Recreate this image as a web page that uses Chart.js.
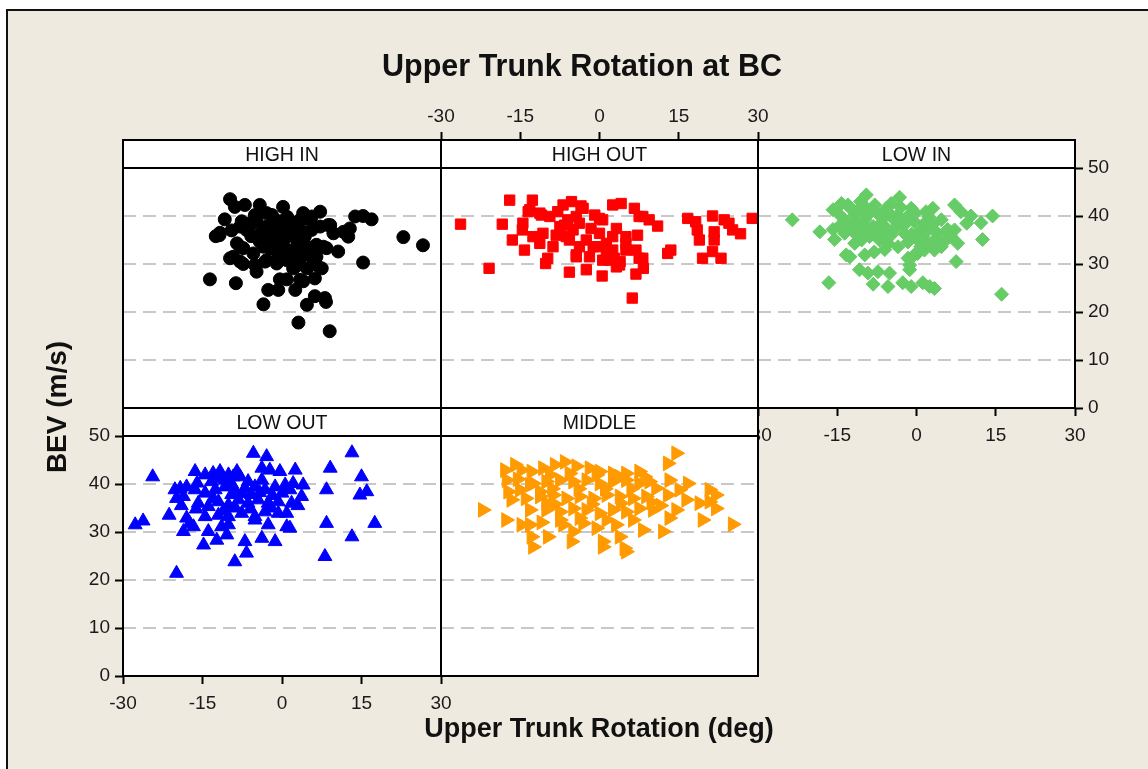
<!DOCTYPE html>
<html>
<head>
<meta charset="utf-8">
<title>Upper Trunk Rotation at BC</title>
<script src="https://cdn.jsdelivr.net/npm/chart.js@4.4.0/dist/chart.umd.min.js"></script>
<style>
  html, body { margin: 0; padding: 0; width: 1148px; height: 769px; overflow: hidden; background: #fff;
               font-family: "Liberation Sans", Arial, sans-serif; }
  #frame { position: absolute; left: 6px; top: 9px; width: 1142px; height: 760px; box-sizing: border-box;
           background: #EEEAE0; border-left: 2px solid #111; border-top: 2px solid #111; }
  canvas { position: absolute; }
  .strip { position: absolute; height: 28px; line-height: 28px; text-align: center; font-size: 19.5px; color: #111; }
  #title { position: absolute; left: 282px; top: 50px; width: 600px; text-align: center; font-weight: bold;
           font-size: 30.5px; line-height: 30px; color: #111; }
  #xlabel { position: absolute; left: 399px; top: 715px; width: 400px; text-align: center; font-weight: bold;
            font-size: 27px; line-height: 27px; color: #111; }
  #ylabel { position: absolute; left: -43px; top: 393px; width: 200px; text-align: center; font-weight: bold;
            font-size: 28px; line-height: 28px; color: #111; transform: rotate(-90deg); }
</style>
</head>
<body>
<div id="frame"></div>

<script>
// axis ticks
const xTicks = [-30, -15, 0, 15, 30];
const yTicks = [0, 10, 20, 30, 40, 50];

// [rotation (deg), BEV (m/s)]
const highIn = [
  [-9.8,43.5],[-8.9,41.9],[-7.0,42.3],[-4.2,42.3],[-2.9,40.6],[-1.9,40.2],[0.2,41.9],[4.0,40.6],[7.2,40.9],
  [13.8,39.9],[15.3,40.0],[16.9,39.3],[-10.8,39.3],[-11.7,36.5],[-7.9,37.8],[-6.0,38.5],[-7.6,38.9],[-5.1,40.2],
  [1.5,38.9],[3.4,38.9],[5.3,39.2],[8.7,38.1],[11.6,36.7],[12.8,37.4],[12.5,35.7],[-1.6,36.4],[0.0,37.1],
  [0.9,35.7],[-2.3,35.0],[-4.2,34.7],[-8.5,34.3],[-7.3,33.3],[-5.4,32.2],[-9.8,31.2],[-7.9,30.5],[-5.1,29.8],
  [-3.2,30.5],[-1.0,30.8],[0.2,32.2],[2.8,32.9],[4.7,33.6],[6.5,34.0],[8.4,33.3],[5.6,31.5],[3.4,31.2],
  [2.5,29.4],[6.5,29.8],[4.7,29.1],[6.2,27.0],[3.4,26.7],[10.6,32.6],[15.3,30.3],[-13.6,26.8],[-8.7,26.0],
  [-0.4,26.8],[0.9,26.8],[-2.6,24.6],[-0.7,24.6],[2.5,24.6],[4.0,26.4],[6.2,23.3],[8.1,22.9],[-3.5,21.6],
  [3.1,17.8],[9.0,16.0],[4.7,21.5],[8.3,22.1],[22.9,35.6],[26.6,33.9],[-1.0,36.7],[0.2,35.0],[2.1,38.5],
  [4.3,35.7],[7.2,37.8],[4.3,32.9],[2.8,31.2],[6.5,31.5],[7.5,29.1],[7.8,33.6],[-3.5,33.6],[-7.9,33.6],
  [-9.2,31.5],[-7.3,30.0],[-4.8,28.4],[-2.9,30.8],[-1.0,30.1],[0.9,30.8],[2.1,29.1],[-1.9,35.3],[-2.9,37.8],
  [-0.4,38.9],[3.4,39.2],[5.6,39.9],[9.1,38.1],[9.7,36.4],[5.6,37.1],[-6.0,38.1],[-4.8,39.2],[-6.7,37.1],
  [-4.2,35.7],[0.9,36.4],[2.8,35.0],[6.2,33.6],[-1.0,33.6],[1.2,32.9],[-11.8,36.0],[-12.5,35.8],
  [-1.5,38.0],[1.0,39.8],[-3.8,36.8],[-0.5,32.0],[1.8,36.9],[3.8,36.8],[-5.8,35.8],[-2.2,33.2],[1.8,31.0],
  [-9.5,37.0]
];
const highOut = [
  [-17.0,43.3],[-12.7,43.3],[-26.3,38.3],[-18.4,38.3],[-20.9,29.1],[-16.5,35.0],[-14.2,32.9],[-14.6,37.1],
  [-13.5,40.9],[-11.3,40.6],[-9.4,39.9],[-7.9,40.9],[-6.9,42.3],[-5.3,43.0],[-3.5,42.1],[-10.2,30.1],
  [-9.8,31.2],[-5.7,28.3],[-2.5,28.8],[0.5,27.5],[6.2,22.9],[6.9,27.9],[8.3,29.1],[3.8,29.8],[2.8,31.2],
  [0.6,30.8],[7.5,31.2],[6.9,32.9],[5.0,32.9],[-4.4,31.5],[-1.9,31.5],[-3.8,33.6],[-5.7,35.0],[-8.8,33.6],
  [-11.3,34.3],[-12.6,35.7],[-10.7,36.4],[2.5,42.3],[4.1,42.6],[6.6,41.6],[8.2,39.9],[9.4,39.2],[11.0,37.9],
  [7.2,36.0],[5.0,35.7],[2.5,35.7],[3.2,37.4],[-0.9,40.2],[0.6,39.2],[-1.6,37.4],[0.0,36.4],[-2.5,35.0],
  [-0.3,33.6],[1.3,34.3],[2.5,32.9],[-5.0,37.1],[-3.8,38.5],[-6.0,39.2],[-7.5,37.8],[-8.2,36.0],[13.5,32.9],
  [12.9,32.2],[16.7,39.5],[18.2,38.8],[21.4,40.0],[23.6,39.2],[24.5,38.5],[25.2,37.1],[26.7,36.3],[28.9,39.5],
  [18.5,37.1],[18.9,35.0],[21.7,36.7],[21.7,35.0],[21.4,32.6],[19.5,31.2],[23.0,31.2],[-3.1,41.6],[-4.4,39.9],
  [-6.6,38.1],[-14.5,38.5],[-13.2,41.3],[-11.0,40.2],[0.0,39.5],[7.5,39.9],[5.0,34.3],[8.2,31.2],[3.9,30.5],
  [-6.3,35.7],[-4.4,31.9],[1.9,30.8],[3.2,29.4],[-1.2,33.6],[1.3,32.9]
];
const lowIn = [
  [-23.5,39.2],[-9.5,44.4],[-3.2,43.9],[-14.2,42.6],[-15.8,41.3],[-13.0,42.3],[-11.4,40.9],[-9.8,42.0],
  [-7.9,42.3],[-4.8,42.6],[-5.7,41.6],[-1.0,41.6],[1.8,40.9],[3.1,41.6],[7.2,42.3],[8.4,40.9],[10.3,40.0],
  [12.2,38.6],[14.4,40.0],[-18.3,36.7],[-15.8,37.2],[-15.5,35.1],[-13.6,39.2],[-11.7,38.5],[-9.8,39.2],
  [-8.2,37.8],[-6.7,38.5],[-4.2,39.2],[-2.3,38.1],[-0.4,38.8],[0.9,37.1],[2.5,37.4],[4.0,36.4],[4.7,39.2],
  [5.9,37.2],[7.2,37.1],[7.8,34.3],[5.6,35.0],[3.4,32.9],[2.1,34.3],[0.2,35.0],[-1.6,34.6],[-3.5,33.6],
  [-5.4,34.3],[-7.0,35.0],[-8.9,35.7],[-10.4,35.0],[-11.7,34.3],[-13.3,31.9],[-12.6,31.5],[-9.8,31.9],
  [12.5,35.1],[7.5,30.5],[-0.4,31.9],[-1.3,29.8],[-1.6,31.2],[0.2,32.2],[-10.8,28.8],[-9.2,28.1],[-7.3,28.4],
  [-5.1,28.1],[-2.6,26.1],[-1.0,25.3],[1.2,26.1],[2.5,25.3],[3.4,24.9],[-8.2,25.8],[-5.4,25.3],[-1.3,28.8],
  [-16.6,26.1],[16.1,23.7],[-11.7,40.2],[-9.2,40.2],[-6.0,39.9],[-3.5,40.2],[-1.0,39.9],[-2.3,36.4],
  [-4.8,36.0],[-6.7,36.0],[-9.8,36.4],[-11.7,36.4],[-13.6,36.4],[-4.2,37.4],[-9.2,37.4],[1.5,38.5],
  [3.4,35.0],[4.7,33.6],[1.5,32.9],
  [-14.8,40.5],[-12.4,41.5],[-10.6,43.0],[-8.6,41.2],[-7.2,40.3],[-5.3,40.8],[-3.0,41.8],[-2.0,39.6],
  [-0.2,40.6],[2.4,39.8],[-12.8,37.6],[-10.8,37.8],[-7.6,36.6],[-5.8,37.6],[-3.0,38.6],[-0.9,36.2],
  [1.2,35.8],[3.0,38.2],[-14.5,38.0],[-6.0,33.0],[-8.0,32.5],[0.8,33.6],[6.5,35.8],[9.5,38.5]
];
const lowOut = [
  [-27.7,31.5],[-26.2,32.3],[-24.4,41.5],[-21.3,33.5],[-19.9,21.4],[-20.2,38.8],[-19.2,39.1],[-18.0,39.4],
  [-19.9,37.0],[-18.6,37.4],[-18.6,30.1],[-18.0,32.9],[-16.7,31.1],[-17.4,31.8],[-16.4,42.6],[-14.5,41.9],
  [-13.0,42.2],[-11.7,42.6],[-10.1,41.9],[-8.5,42.6],[-9.2,41.5],[-7.9,41.5],[-14.8,27.3],[-13.9,30.1],
  [-12.3,28.3],[-10.4,29.4],[-8.9,23.8],[-7.0,28.0],[-6.7,25.6],[-3.8,28.7],[-1.3,28.0],[-5.4,46.4],
  [-2.9,45.7],[-3.8,43.3],[-2.3,42.9],[-0.4,42.6],[2.5,42.9],[0.6,39.8],[2.1,40.1],[4.0,39.8],[3.7,37.4],
  [1.8,36.0],[0.9,33.9],[-2.6,31.5],[0.9,31.1],[1.5,30.8],[8.4,38.8],[9.1,43.3],[8.4,31.8],[8.1,24.9],
  [13.2,46.5],[13.2,29.0],[15.0,41.5],[14.7,37.7],[16.0,38.4],[17.5,31.8],[-16.4,38.8],[-14.5,38.1],
  [-12.6,38.8],[-10.8,39.4],[-8.9,38.8],[-7.0,39.1],[-5.1,39.4],[-3.2,38.8],[-1.3,39.4],[-15.8,36.0],
  [-13.9,35.3],[-12.0,36.3],[-10.1,35.6],[-8.2,36.7],[-6.4,36.0],[-4.5,36.7],[-2.6,36.0],[-0.7,36.3],
  [-14.5,33.2],[-12.0,33.5],[-10.1,33.2],[-7.6,33.9],[-5.1,33.2],[-3.2,34.2],[-0.7,33.9],[-11.4,31.1],
  [-10.1,31.5],[-5.1,32.5],[-6.4,40.5],[-3.8,40.8],[-10.8,40.8],[0.0,38.1],
  [-16.0,40.2],[-13.3,40.5],[-12.0,41.2],[-9.5,40.0],[-7.5,38.0],[-4.2,38.2],[-1.8,37.6],[-13.0,37.0],
  [-9.5,37.8],[-5.8,37.8],[-11.0,34.5],[-8.8,35.0],[-6.0,34.8],[-2.0,35.0],[-16.2,34.8],[-19.0,35.5],
  [1.5,38.8],[3.0,35.5]
];
const middle = [
  [-22.1,34.6],[-17.7,32.5],[14.5,46.4],[12.9,44.3],[25.2,31.6],[-17.9,42.9],[-16.0,44.0],[-14.8,42.9],
  [-12.9,42.6],[-10.7,43.3],[-8.5,44.0],[-6.6,44.6],[-4.4,43.7],[-1.9,43.3],[0.0,42.6],[2.5,42.2],[5.0,42.2],
  [7.5,42.6],[-17.6,40.8],[-17.3,38.4],[-16.7,36.7],[-15.1,38.8],[-13.2,39.8],[-11.3,38.4],[-10.1,36.0],
  [-13.2,34.6],[-14.8,31.5],[-12.9,29.0],[-12.6,26.9],[-13.2,31.5],[-9.8,29.0],[-6.9,31.5],[-5.3,28.0],
  [-5.0,30.1],[-3.1,31.8],[-0.6,30.8],[0.6,28.0],[0.6,26.9],[3.8,29.0],[4.7,26.6],[5.0,25.9],[8.2,30.4],
  [12.0,30.1],[13.2,32.9],[14.5,34.6],[19.5,32.5],[22.0,34.9],[20.8,36.3],[18.9,36.0],[16.4,36.7],[15.1,38.8],
  [16.7,40.1],[20.8,38.8],[22.0,37.7],[13.2,40.8],[12.9,37.7],[10.7,39.1],[-12.6,40.1],[-10.1,40.5],
  [-7.5,40.8],[-5.0,40.5],[-2.5,40.8],[0.0,40.1],[2.5,40.5],[5.0,40.8],[7.5,40.1],[9.4,40.5],[-11.3,37.4],
  [-8.8,37.7],[-6.3,37.0],[-3.8,37.4],[-1.2,37.0],[1.3,37.7],[3.8,37.4],[6.3,37.0],[8.8,37.4],[-10.1,34.6],
  [-7.5,34.2],[-5.0,34.9],[-2.5,34.6],[0.0,33.9],[2.5,34.6],[5.0,34.2],[7.5,34.9],[10.1,34.6],[-7.5,32.5],
  [-3.8,32.9],[1.3,32.5],[6.3,32.5],[3.1,31.5],[-9.4,41.9],[-5.7,42.2],[-0.6,41.9],[3.8,41.5],[8.5,41.5],
  [-15.5,41.0],[-14.0,37.0],[-9.0,39.0],[-4.0,39.0],[1.0,39.0],[6.0,39.0],[-1.5,35.8],[4.0,36.0],
  [-8.5,35.8],[9.8,36.2],[11.5,35.5],[-11.0,32.0]
];

// panel layout (pixels) and marker styles
const panels = [
  { name: 'HIGH IN',  pts: highIn,  left: 123, top: 140, width: 318, style: 'circle',   color: '#000000', r: 6.5, rot: 0,  axes: [] },
  { name: 'HIGH OUT', pts: highOut, left: 441, top: 140, width: 317, style: 'rect',     color: '#FF0000', r: 7.3, rot: 0,  axes: ['top'] },
  { name: 'LOW IN',   pts: lowIn,   left: 758, top: 140, width: 317, style: 'rectRot',  color: '#66CC66', r: 7,   rot: 0,  axes: ['bottom', 'right'] },
  { name: 'LOW OUT',  pts: lowOut,  left: 123, top: 408, width: 318, style: 'triangle', color: '#0000FF', r: 8,   rot: 0,  axes: ['bottom', 'left'] },
  { name: 'MIDDLE',   pts: middle,  left: 441, top: 408, width: 317, style: 'triangle', color: '#FF9A00', r: 8.5, rot: 90, axes: [] }
];

const M = 70;        // margin of each canvas around its panel
const AX = 50;       // room given to a visible axis
const STRIP = 28;    // header strip height
const PLOT_H = 240;  // data area height
const H = PLOT_H + STRIP;
const Y_MAX = 50 * H / PLOT_H; // strip sits on top of the data area inside the chart area
const tickFont = { family: 'Liberation Sans', size: 19 };

// white panel, border and strip line
const panelFrame = {
  id: 'panelFrame',
  beforeDraw(chart) {
    const a = chart.chartArea, ctx = chart.ctx;
    ctx.save();
    ctx.fillStyle = '#fff';
    ctx.fillRect(a.left, a.top, a.right - a.left, a.bottom - a.top);
    ctx.restore();
  },
  afterDraw(chart) {
    const a = chart.chartArea, ctx = chart.ctx;
    const yStrip = chart.scales.y.getPixelForValue(50);
    ctx.save();
    ctx.strokeStyle = '#000';
    ctx.lineWidth = 2;
    ctx.strokeRect(a.left, a.top, a.right - a.left, a.bottom - a.top);
    ctx.beginPath();
    ctx.moveTo(a.left, yStrip);
    ctx.lineTo(a.right, yStrip);
    ctx.stroke();
    ctx.restore();
  }
};

function tickAxis(axis, position, padding) {
  const isX = axis === 'x';
  return {
    type: 'linear',
    position: position,
    min: isX ? -30 : 0,
    max: isX ? 30 : Y_MAX,
    afterBuildTicks: s => { s.ticks = (isX ? xTicks : yTicks).map(v => ({ value: v })); },
    afterFit: s => { if (isX) s.height = AX; else s.width = AX; },
    grid: { drawOnChartArea: false, drawTicks: true, tickLength: 8, tickWidth: 2, tickColor: '#000' },
    border: { display: false },
    ticks: { font: tickFont, color: '#1a1a1a', padding: padding, maxRotation: 0, autoSkip: false }
  };
}

panels.forEach(p => {
  const c = document.createElement('canvas');
  c.width = p.width + 2 * M;
  c.height = H + 2 * M;
  c.style.left = (p.left - M) + 'px';
  c.style.top = (p.top - M) + 'px';
  document.body.appendChild(c);

  const has = s => p.axes.includes(s);
  const scales = {
    x: { type: 'linear', min: -30, max: 30, display: false },
    y: {
      type: 'linear', min: 0, max: Y_MAX, position: 'left',
      afterBuildTicks: s => { s.ticks = yTicks.map(v => ({ value: v })); },
      afterFit: s => { s.width = 0; },
      ticks: { display: false },
      border: { display: false, dash: [13, 7] },
      grid: {
        drawTicks: false, lineWidth: 2,
        color: ctx => (ctx.tick && ctx.tick.value > 0 && ctx.tick.value < 50) ? '#C8C8C8' : 'rgba(0,0,0,0)'
      }
    }
  };
  if (has('top')) scales.xt = tickAxis('x', 'top', 4);
  if (has('bottom')) scales.xb = tickAxis('x', 'bottom', 8);
  if (has('left')) scales.yl = tickAxis('y', 'left', 5);
  if (has('right')) scales.yr = tickAxis('y', 'right', 5);

  new Chart(c.getContext('2d'), {
    type: 'scatter',
    data: {
      datasets: [{
        label: p.name,
        data: p.pts.map(([x, y]) => ({ x: x, y: y })),
        pointStyle: p.style,
        pointRadius: p.r,
        pointRotation: p.rot,
        pointBackgroundColor: p.color,
        pointBorderColor: p.color,
        pointBorderWidth: 1,
        clip: 0
      }]
    },
    options: {
      responsive: false,
      animation: false,
      events: [],
      layout: {
        padding: {
          left: has('left') ? M - AX : M,
          right: has('right') ? M - AX : M,
          top: has('top') ? M - AX : M,
          bottom: has('bottom') ? M - AX : M
        }
      },
      scales: scales,
      plugins: { legend: { display: false }, tooltip: { enabled: false } }
    },
    plugins: [panelFrame]
  });
});

// strip labels and titles
panels.forEach(p => {
  const d = document.createElement('div');
  d.className = 'strip';
  d.style.left = p.left + 'px';
  d.style.top = p.top + 'px';
  d.style.width = p.width + 'px';
  d.textContent = p.name;
  document.body.appendChild(d);
});
[['title', 'Upper Trunk Rotation at BC'], ['xlabel', 'Upper Trunk Rotation (deg)'], ['ylabel', 'BEV (m/s)']]
  .forEach(([id, text]) => {
    const d = document.createElement('div');
    d.id = id;
    d.textContent = text;
    document.body.appendChild(d);
  });
</script>
</body>
</html>
